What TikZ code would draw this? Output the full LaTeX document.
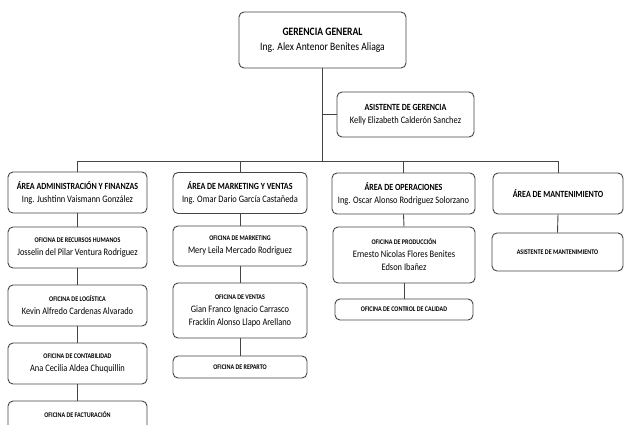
\documentclass[tikz,border=0pt]{standalone}
\usepackage{fontspec}
\setmainfont[FakeStretch=0.85]{Carlito}
\definecolor{linec}{HTML}{454545}
\begin{document}
\begin{tikzpicture}[x=1pt,y=-1pt,
  box/.style={draw=linec, line width=0.9pt, rounded corners=5pt, align=center, inner sep=0pt, fill=white},
  conn/.style={draw=linec, line width=0.9pt},
  bigf/.style={font=\fontsize{11.3}{15}\selectfont},
  areaf/.style={font=\fontsize{9.9}{13}\selectfont},
  offf/.style={font=\fontsize{9.9}{13}\selectfont}]
\useasboundingbox (0,0) rectangle (624,424);
\clip (0,0) rectangle (624,424);
\newcommand{\ttl}[1]{{\fontsize{9.4}{13}\selectfont\textbf{#1}}}
\newcommand{\gtl}[1]{\textbf{#1}}
\newcommand{\otl}[1]{{\fontsize{7.1}{9}\selectfont\textbf{#1}}}
% top
\node[box,bigf,minimum width=167pt,minimum height=56pt] (gg) at (322.5,40) {\gtl{GERENCIA GENERAL}\\Ing. Alex Antenor Benites Aliaga};
\node[box,areaf,minimum width=137pt,minimum height=45pt] (ag) at (405.5,114.5) {\ttl{ASISTENTE DE GERENCIA}\\Kelly Elizabeth Calderón Sanchez};
% areas
\node[box,areaf,minimum width=139pt,minimum height=41pt] (a1) at (77.5,192.5) {\ttl{ÁREA ADMINISTRACIÓN Y FINANZAS}\\Ing. Jushtinn Vaismann González};
\node[box,areaf,minimum width=134pt,minimum height=41pt] (a2) at (240,193) {\ttl{ÁREA DE MARKETING Y VENTAS}\\Ing. Omar Dario García Castañeda};
\node[box,areaf,minimum width=143pt,minimum height=41pt] (a3) at (403.5,193.5) {\ttl{ÁREA DE OPERACIONES}\\Ing. Oscar Alonso Rodriguez Solorzano};
\node[box,areaf,minimum width=130pt,minimum height=41pt] (a4) at (558,193.5) {\ttl{ÁREA DE MANTENIMIENTO}};
% column 1
\node[box,offf,minimum width=139pt,minimum height=41pt] (o11) at (77.5,247.5) {\otl{OFICINA DE RECURSOS HUMANOS}\\Josselin del Pilar Ventura Rodriguez};
\node[box,offf,minimum width=139pt,minimum height=41pt] (o12) at (77.5,305.5) {\otl{OFICINA DE LOGÍSTICA}\\Kevin Alfredo Cardenas Alvarado};
\node[box,offf,minimum width=139pt,minimum height=41pt] (o13) at (77.5,363.5) {\otl{OFICINA DE CONTABILIDAD}\\Ana Cecilia Aldea Chuquillin};
\node[box,offf,minimum width=139pt,minimum height=41pt] (o14) at (77.5,421.5) {\otl{OFICINA DE FACTURACIÓN}\\\mbox{}};
% column 2
\node[box,offf,minimum width=134pt,minimum height=40pt] (o21) at (240,246) {\otl{OFICINA DE MARKETING}\\Mery Leila Mercado Rodriguez};
\node[box,offf,minimum width=134pt,minimum height=55pt] (o22) at (240,310.5) {\otl{OFICINA DE VENTAS}\\Gian Franco Ignacio Carrasco\\Fracklin Alonso Llapo Arellano};
\node[box,offf,minimum width=134pt,minimum height=22pt] (o23) at (240,367) {\otl{OFICINA DE REPARTO}};
% column 3
\node[box,offf,minimum width=142pt,minimum height=56pt] (o31) at (404,255) {\otl{OFICINA DE PRODUCCIÓN}\\Ernesto Nicolas Flores Benites\\Edson Ibañez};
\node[box,offf,minimum width=138pt,minimum height=21pt] (o32) at (404,309.5) {\otl{OFICINA DE CONTROL DE CALIDAD}};
% column 4
\node[box,offf,minimum width=131pt,minimum height=38pt] (o41) at (557.5,252) {\otl{ASISTENTE DE MANTENIMIENTO}};
% bus
\coordinate (bus) at (0,161);
\draw[conn] (gg.south) -- (gg.south |- bus);
\draw[conn] (gg.south |- ag.west) -- (ag.west);
\draw[conn] (a1.north) -- (a1.north |- bus) -- (a4.north |- bus) -- (a4.north);
\draw[conn] (a2.north) -- (a2.north |- bus);
\draw[conn] (a3.north) -- (a3.north |- bus);
% column connectors
\draw[conn] (a1.south) -- (o11.north);
\draw[conn] (o11.south) -- (o12.north);
\draw[conn] (o12.south) -- (o13.north);
\draw[conn] (o13.south) -- (o14.north);
\draw[conn] (a2.south) -- (o21.north);
\draw[conn] (o21.south) -- (o22.north);
\draw[conn] (o22.south) -- (o23.north);
\draw[conn] (a3.south) -- (o31.north);
\draw[conn] (o31.south) -- (o32.north);
\draw[conn] (a4.south) -- (o41.north);
\end{tikzpicture}
\end{document}
